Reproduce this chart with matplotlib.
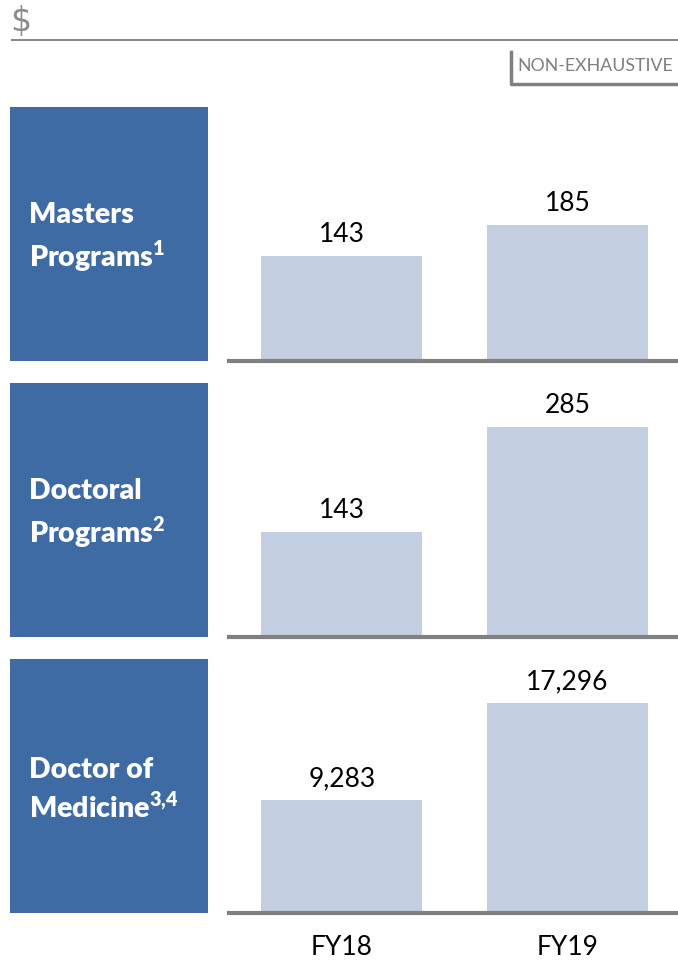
import numpy as np
import matplotlib
matplotlib.use("Agg")
import matplotlib.pyplot as plt
from matplotlib.patches import Rectangle
from matplotlib.lines import Line2D

plt.rcParams['font.family'] = ['Lato', 'DejaVu Sans']
plt.rcParams['mathtext.fontset'] = 'custom'
plt.rcParams['mathtext.rm'] = 'Lato'
plt.rcParams['mathtext.bf'] = 'Lato:heavy'

# data
years = ["FY18", "FY19"]
row_titles = [r"Masters" + "\n" + r"Programs$^{\mathbf{1}}$",
              r"Doctoral" + "\n" + r"Programs$^{\mathbf{2}}$",
              r"Doctor of" + "\n" + r"Medicine$^{\mathbf{3{,}4}}$"]
masters = [143, 185]
doctoral = [143, 285]
medicine = [9283, 17296]
row_values = [masters, doctoral, medicine]
row_ylim = [345, 345, 20920]

W, H = 678, 965
fig = plt.figure(figsize=(W / 100, H / 100), dpi=100)


def fx(px):
    return px / W


def fy(py):
    return 1 - py / H


# faint gray gradient at the bottom of the page
bg = fig.add_axes([0, 0, 1, 1], zorder=-10)
grad = np.linspace(0, 1, 300)
grad = np.clip((grad - 0.62) / 0.38, 0, 1)
shade = 1 - 0.08 * grad
img = np.dstack([shade, shade, shade])[:, :1, :].repeat(2, axis=1)
bg.imshow(img, aspect='auto', extent=[0, 1, 0, 1], origin='upper')
bg.set_axis_off()

# header
fig.text(fx(10), fy(21), "$", fontsize=24, color="#8c8c8c", va="center",
         ha="left", family="DejaVu Sans")
fig.add_artist(Line2D([fx(12), fx(678)], [fy(40), fy(40)], color="#8c8c8c", lw=1.5))
fig.text(fx(673), fy(66), "NON-EXHAUSTIVE", fontsize=12.8, color="#7f7f7f",
         ha="right", va="center")
fig.add_artist(Line2D([fx(511), fx(511), fx(678)], [fy(52), fy(84), fy(84)],
                      color="#808080", lw=2.5))

tops = [107, 383, 659]
panel_h = 254
for i, (title, vals, ylim) in enumerate(zip(row_titles, row_values, row_ylim)):
    top = tops[i]
    bottom = top + panel_h
    # blue title box
    fig.add_artist(Rectangle((fx(10), fy(bottom)), fx(198), panel_h / H,
                             color="#3F6BA5", lw=0))
    fig.text(fx(29), fy(top + panel_h / 2 + 4), title, color="white", fontsize=20.5,
             fontweight="heavy", ha="left", va="center", linespacing=1.35)

    ax = fig.add_axes([fx(229), fy(bottom), fx(449), panel_h / H])
    ax.patch.set_alpha(0)
    x = np.arange(len(years))
    ax.bar(x, vals, width=0.714, color="#C3CEE0")
    for xi, v in zip(x, vals):
        ax.text(xi, v + ylim * 0.035, f"{v:,}", ha="center", va="bottom",
                fontsize=19, color="black")
    ax.set_xlim(-0.5, 1.49)
    ax.set_ylim(0, ylim)
    for s in ["top", "right", "left"]:
        ax.spines[s].set_visible(False)
    ax.spines["bottom"].set_color("#808080")
    ax.spines["bottom"].set_linewidth(3)
    ax.set_yticks([])
    ax.set_xticks(x)
    if i == 2:
        ax.set_xticklabels(years, fontsize=19)
        ax.tick_params(axis="x", length=0, pad=16)
    else:
        ax.set_xticklabels([])
        ax.tick_params(axis="x", length=0)

fig.savefig("out.png", dpi=100)
